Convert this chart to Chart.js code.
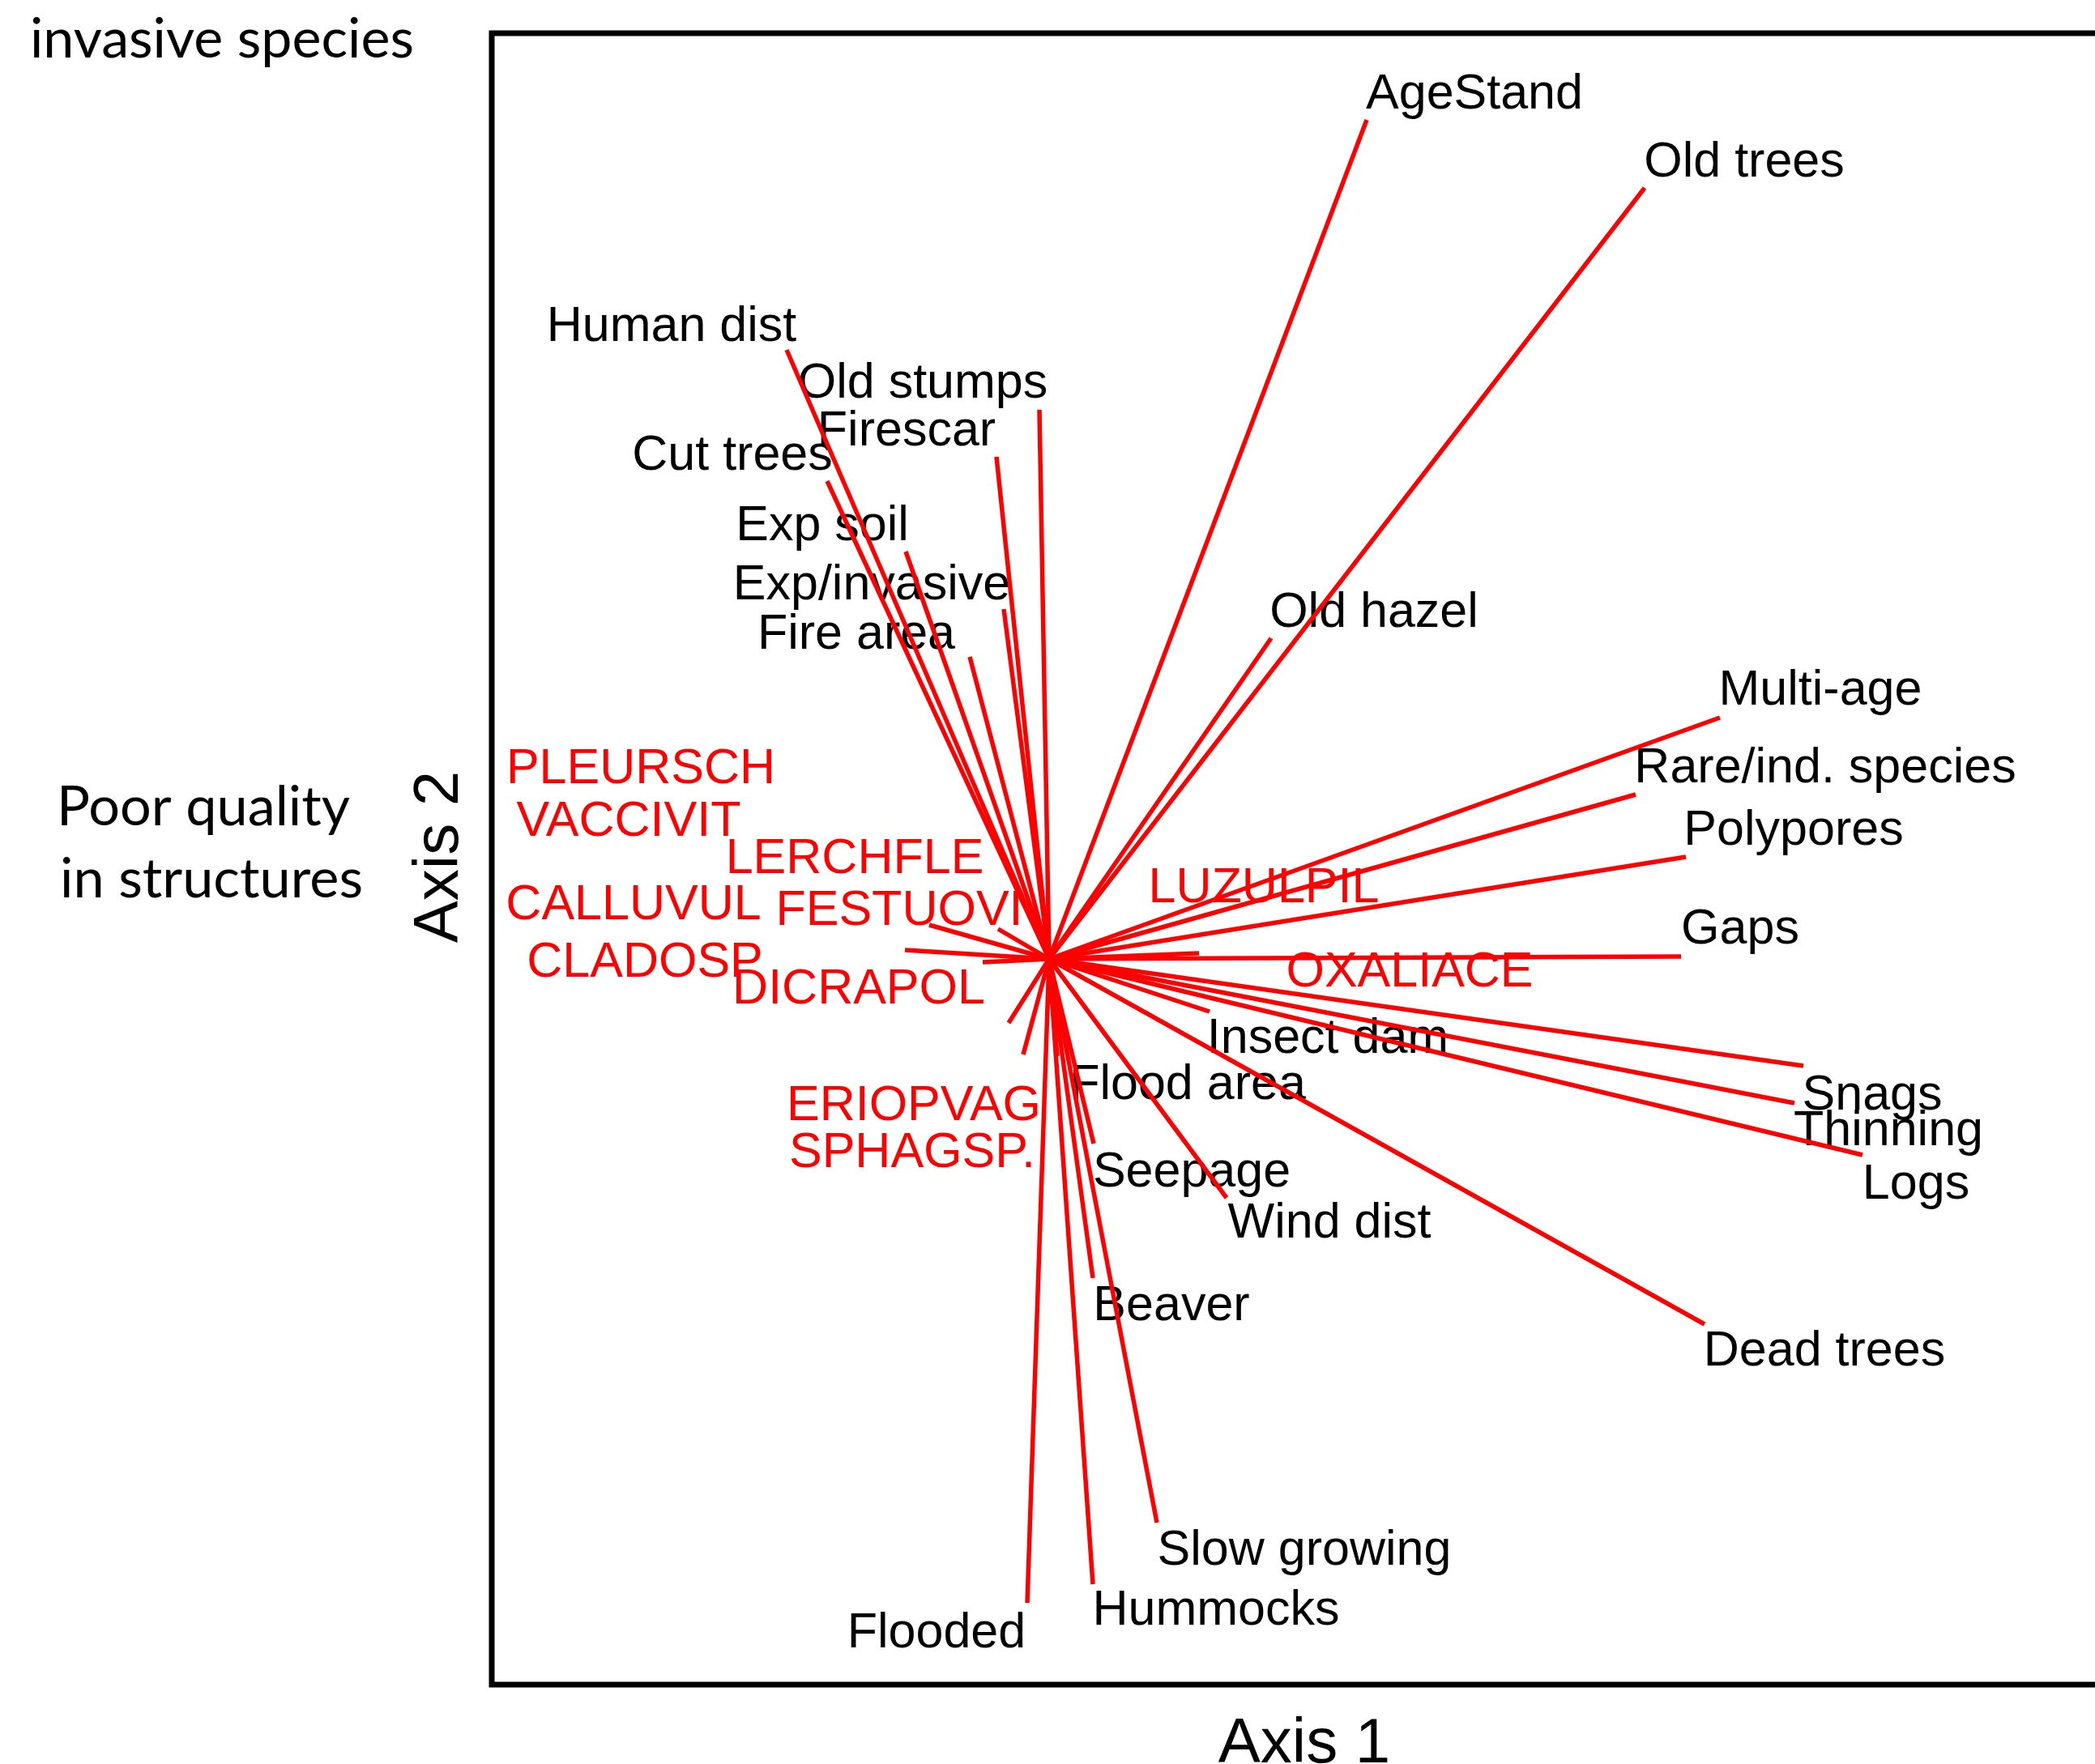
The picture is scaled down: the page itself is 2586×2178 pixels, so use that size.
<!DOCTYPE html>
<html>
<head>
<meta charset="utf-8">
<script src="https://cdn.jsdelivr.net/npm/chart.js@4.4.1/dist/chart.umd.min.js"></script>
<style>
  html, body { margin: 0; padding: 0; background: #fff; overflow: hidden; }
  canvas { display: block; }
</style>
</head>
<body>
<canvas id="biplot" width="2586" height="2178"></canvas>
<script>
// environmental vectors (black labels): arrow tips on axis 1 / axis 2
const envNames = ['AgeStand', 'Old trees', 'Human dist', 'Old stumps', 'Firescar', 'Cut trees',
    'Exp soil', 'Exp/invasive', 'Fire area', 'Old hazel', 'Multi-age', 'Rare/ind. species',
    'Polypores', 'Gaps', 'Snags', 'Thinning', 'Logs', 'Dead trees', 'Insect dam', 'Flood area',
    'Seepage', 'Wind dist', 'Beaver', 'Slow growing', 'Hummocks', 'Flooded'];
const envX = [0.392, 0.735, -0.324, -0.012, -0.065, -0.274, -0.177, -0.056, -0.098, 0.274, 0.828, 0.724,
    0.786, 0.780, 0.931, 0.920, 1.004, 0.809, 0.198, 0.010, 0.055, 0.219, 0.054, 0.133, 0.054, -0.027];
const envY = [1.036, 0.952, 0.752, 0.678, 0.620, 0.590, 0.503, 0.432, 0.373, 0.396, 0.298, 0.203,
    0.126, 0.003, -0.132, -0.178, -0.242, -0.451, -0.065, -0.120, -0.228, -0.295, -0.394, -0.696, -0.772, -0.795];
// where each label sits (centre x, baseline y)
const envLabelX = [0.525, 0.858, -0.466, -0.156, -0.176, -0.391, -0.280, -0.219, -0.238, 0.401, 0.952, 0.958,
    0.919, 0.853, 1.016, 1.036, 1.070, 0.957, 0.344, 0.171, 0.176, 0.346, 0.151, 0.315, 0.206, -0.139];
const envLabelY = [1.050, 0.966, 0.763, 0.693, 0.634, 0.604, 0.517, 0.444, 0.383, 0.410, 0.314, 0.218,
    0.141, 0.019, -0.186, -0.230, -0.296, -0.502, -0.116, -0.173, -0.281, -0.344, -0.446, -0.748, -0.822, -0.850];

// species (red labels)
const speciesNames = ['PLEURSCH', 'VACCIVIT', 'LERCHFLE', 'CALLUVUL', 'FESTUOVI', 'CLADOSP',
    'DICRAPOL', 'LUZULPIL', 'OXALIACE', 'ERIOPVAG', 'SPHAGSP.'];
const speciesLabelX = [-0.504, -0.519, -0.240, -0.513, -0.185, -0.499, -0.235, 0.265, 0.445, -0.167, -0.169];
const speciesLabelY = [0.217, 0.152, 0.106, 0.049, 0.042, -0.022, -0.055, 0.070, -0.034, -0.199, -0.257];
// species arrows that show outside the bundle
const speciesArrowNames = ['CLADOSP', 'FESTUOVI', 'LERCHFLE', 'DICRAPOL', 'OXALIACE', 'ERIOPVAG', 'SPHAGSP.'];
const speciesArrowX = [-0.178, -0.148, -0.063, -0.082, 0.185, -0.050, -0.032];
const speciesArrowY = [0.011, 0.042, 0.037, -0.004, 0.007, -0.079, -0.118];

const RED = '#ff0000';

function arrowSet(name, x, y) {
    return {
        label: name,
        data: [{x: 0, y: 0}, {x: x, y: y}],
        showLine: true,
        borderColor: RED,
        borderWidth: 5.5,
        pointRadius: 0,
        borderCapStyle: 'butt',
    };
}

let datasets = envNames.map((n, i) => arrowSet(n, envX[i], envY[i]))
    .concat(speciesArrowNames.map((n, i) => arrowSet(n, speciesArrowX[i], speciesArrowY[i])));

function fitText(ctx, text, family, width, x, y) {
    ctx.font = '100px ' + family;
    let w = ctx.measureText(text).width;
    ctx.font = (100 * width / w).toFixed(2) + 'px ' + family;
    ctx.textAlign = 'left';
    ctx.fillText(text, x, y);
}

const labelPlugin = {
    id: 'labels',
    beforeDatasetsDraw(chart) {
        const ctx = chart.ctx;
        const xs = chart.scales.x, ys = chart.scales.y;
        ctx.save();
        ctx.font = '61px "Liberation Sans", Arial, sans-serif';
        ctx.textAlign = 'center';
        ctx.textBaseline = 'alphabetic';
        ctx.fillStyle = '#000';
        envNames.forEach((n, i) => {
            ctx.fillText(n, xs.getPixelForValue(envLabelX[i]), ys.getPixelForValue(envLabelY[i]));
        });
        ctx.fillStyle = RED;
        speciesNames.forEach((n, i) => {
            ctx.fillText(n, xs.getPixelForValue(speciesLabelX[i]), ys.getPixelForValue(speciesLabelY[i]));
        });
        ctx.restore();
    },
    afterDraw(chart) {
        const ctx = chart.ctx;
        const a = chart.chartArea;
        ctx.save();
        // frame (right side falls outside the picture)
        ctx.strokeStyle = '#000';
        ctx.lineWidth = 7;
        ctx.beginPath();
        ctx.moveTo(chart.width + 10, a.top);
        ctx.lineTo(a.left, a.top);
        ctx.lineTo(a.left, a.bottom);
        ctx.lineTo(chart.width + 10, a.bottom);
        ctx.stroke();

        ctx.fillStyle = '#000';
        ctx.textBaseline = 'alphabetic';
        ctx.font = '78px "Liberation Sans", Arial, sans-serif';
        ctx.textAlign = 'center';
        ctx.fillText('Axis 1', 1610, 2176);
        ctx.translate(565, 1058);
        ctx.rotate(-Math.PI / 2);
        ctx.fillText('Axis 2', 0, 0);
        ctx.restore();

        ctx.save();
        ctx.fillStyle = '#000';
        ctx.textBaseline = 'alphabetic';
        fitText(ctx, 'invasive species', 'Lato, "Open Sans", sans-serif', 474, 37, 71);
        fitText(ctx, 'Poor quality', 'Lato, "Open Sans", sans-serif', 362, 70, 1019);
        fitText(ctx, 'in structures', 'Lato, "Open Sans", sans-serif', 374, 74, 1108);
        ctx.restore();
    }
};

let biplot = new Chart(document.getElementById('biplot'), {
    type: 'scatter',
    data: { datasets: datasets },
    options: {
        responsive: false,
        devicePixelRatio: 1,
        animation: false,
        layout: { padding: { left: 607, top: 41, right: 0, bottom: 98 } },
        plugins: { legend: { display: false }, tooltip: { enabled: false } },
        scales: {
            x: { type: 'linear', min: -0.688, max: 1.291, display: false },
            y: { type: 'linear', min: -0.896, max: 1.143, display: false }
        }
    },
    plugins: [labelPlugin]
});
</script>
</body>
</html>
